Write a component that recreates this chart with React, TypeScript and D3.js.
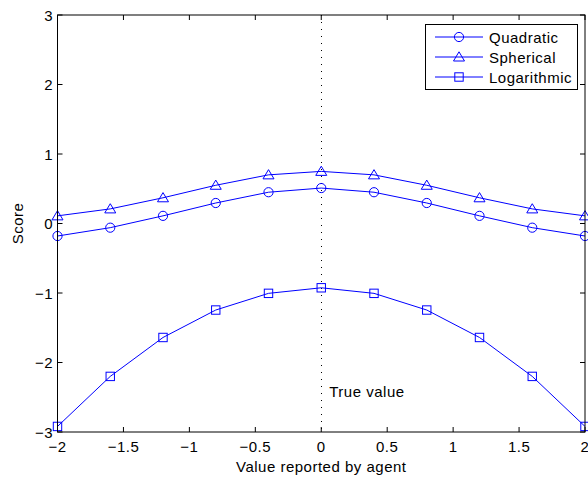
import React from "react";
import * as d3 from "d3";

const xValues = [-2, -1.6, -1.2, -0.8, -0.4, 0, 0.4, 0.8, 1.2, 1.6, 2];
const quadratic = [-0.18, -0.06, 0.11, 0.295, 0.45, 0.51, 0.45, 0.295, 0.11, -0.06, -0.18];
const spherical = [0.11, 0.21, 0.37, 0.55, 0.7, 0.75, 0.7, 0.55, 0.37, 0.21, 0.11];
const logarithmic = [-2.92, -2.2, -1.64, -1.245, -1.005, -0.925, -1.005, -1.245, -1.64, -2.2, -2.92];
const xTicks = [-2, -1.5, -1, -0.5, 0, 0.5, 1, 1.5, 2];
const yTicks = [-3, -2, -1, 0, 1, 2, 3];
const seriesNames = ["Quadratic", "Spherical", "Logarithmic"];
const markerKinds = ["circle", "triangle", "square"];
const trueValueLabel = "True value";
const xLabel = "Value reported by agent";
const yLabel = "Score";

const W = 588;
const H = 479;
const left = 57.5;
const right = 585;
const top = 15;
const bottom = 432;
const BLUE = "#0000ff";
const FONT = "'Liberation Sans', Arial, Helvetica, sans-serif";
const FS = 15;
const LS = 0.5;

const fmt = (v: number) => (v < 0 ? "\u2212" + String(-v) : String(v));

function Marker({ kind, x, y }: { kind: string; x: number; y: number }) {
  if (kind === "circle") {
    return <circle cx={x} cy={y} r={4.6} fill="none" stroke={BLUE} strokeWidth={1} />;
  }
  if (kind === "triangle") {
    const p = d3.path();
    p.moveTo(x, y - 5.2);
    p.lineTo(x + 5.5, y + 4);
    p.lineTo(x - 5.5, y + 4);
    p.closePath();
    return <path d={p.toString()} fill="none" stroke={BLUE} strokeWidth={1} />;
  }
  return <rect x={x - 4.2} y={y - 4.2} width={8.4} height={8.4} fill="none" stroke={BLUE} strokeWidth={1} />;
}

export default function App() {
  const x = d3.scaleLinear().domain([-2, 2]).range([left, right]);
  const y = d3.scaleLinear().domain([-3, 3]).range([bottom, top]);
  const series = [quadratic, spherical, logarithmic];
  const line = d3
    .line<number>()
    .x((_, i) => x(xValues[i]))
    .y((d) => y(d));

  const legendX = 425;
  const legendY = 24;
  const legendW = 152;
  const legendH = 65;
  const rowY = [37, 57, 77];

  return (
    <svg
      width={W}
      height={H}
      style={{ position: "absolute", left: 0, top: 0, background: "#fff" }}
      fontFamily={FONT}
    >
      <rect x={0} y={0} width={W} height={H} fill="#fff" />
      <line
        x1={Math.round(x(0)) + 0.5}
        x2={Math.round(x(0)) + 0.5}
        y1={top}
        y2={bottom}
        stroke="#000"
        strokeWidth={1}
        strokeDasharray="1,6"
      />
      {series.map((s, si) => (
        <g key={si}>
          <path d={line(s) || ""} fill="none" stroke={BLUE} strokeWidth={1} />
          {s.map((v, i) => (
            <Marker key={i} kind={markerKinds[si]} x={x(xValues[i])} y={y(v)} />
          ))}
        </g>
      ))}
      <rect x={left} y={top} width={right - left} height={bottom - top} fill="none" stroke="#000" strokeWidth={1} />
      {xTicks.map((t, i) => (
        <g key={"xt" + i}>
          <line x1={x(t)} x2={x(t)} y1={bottom} y2={bottom - 5} stroke="#000" />
          <line x1={x(t)} x2={x(t)} y1={top} y2={top + 5} stroke="#000" />
          <text x={x(t)} y={452} textAnchor="middle" fontSize={FS} letterSpacing={LS} fill="#000">
            {fmt(t)}
          </text>
        </g>
      ))}
      {yTicks.map((t, i) => (
        <g key={"yt" + i}>
          <line x1={left} x2={left + 5} y1={y(t)} y2={y(t)} stroke="#000" />
          <line x1={right} x2={right - 5} y1={y(t)} y2={y(t)} stroke="#000" />
          <text x={53} y={y(t) + 5.5} textAnchor="end" fontSize={FS} letterSpacing={LS} fill="#000">
            {fmt(t)}
          </text>
        </g>
      ))}
      <text x={x(0)} y={471.5} textAnchor="middle" fontSize={FS} letterSpacing={LS} fill="#000">
        {xLabel}
      </text>
      <text
        transform={`translate(23,${y(0)}) rotate(-90)`}
        textAnchor="middle"
        fontSize={FS}
        letterSpacing={LS}
        fill="#000"
      >
        {yLabel}
      </text>
      <text x={x(0) + 8} y={396.5} fontSize={FS} letterSpacing={LS} fill="#000">
        {trueValueLabel}
      </text>
      <rect x={legendX + 0.5} y={legendY + 0.5} width={legendW} height={legendH} fill="#fff" stroke="#000" />
      {seriesNames.map((name, i) => (
        <g key={"lg" + i}>
          <line x1={435} x2={483} y1={rowY[i]} y2={rowY[i]} stroke={BLUE} />
          <Marker kind={markerKinds[i]} x={459} y={rowY[i]} />
          <text x={489} y={rowY[i] + 5.5} fontSize={FS} letterSpacing={LS} fill="#000">
            {name}
          </text>
        </g>
      ))}
    </svg>
  );
}
